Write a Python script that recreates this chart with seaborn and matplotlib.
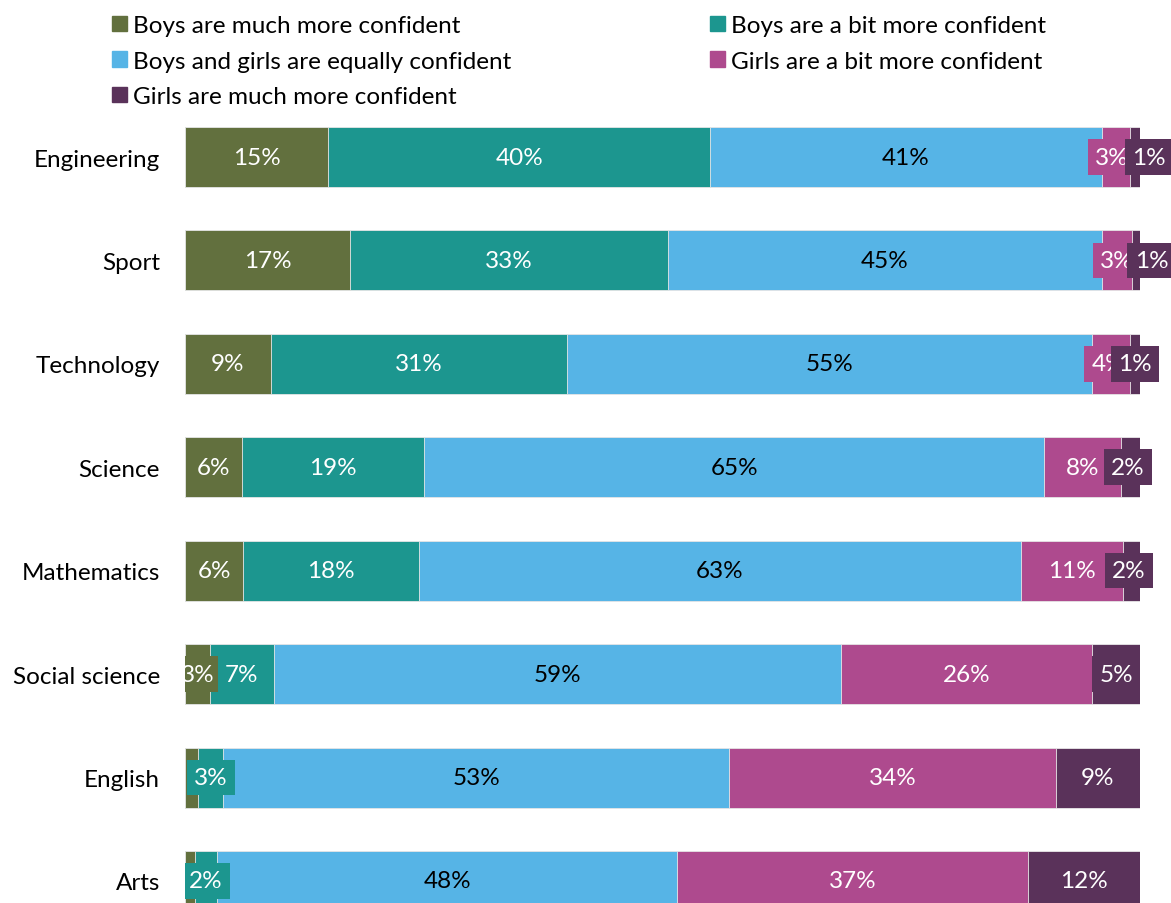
import numpy as np
import pandas as pd
import matplotlib
matplotlib.use("Agg")
import matplotlib.pyplot as plt
import matplotlib.patches as mpatches
from matplotlib.transforms import Bbox, TransformedBbox
import seaborn as sns

categories = ["Engineering", "Sport", "Technology", "Science", "Mathematics",
              "Social science", "English", "Arts"]
series_names = ["Boys are much more confident", "Boys are a bit more confident",
                "Boys and girls are equally confident", "Girls are a bit more confident",
                "Girls are much more confident"]
boys_much = [15, 17.3, 9, 6, 6.1, 2.6, 1.4, 1.0]
boys_bit = [40, 33.3, 31, 19, 18.4, 6.7, 2.6, 2.4]
equal = [41, 45.4, 55, 65, 63, 59.4, 53, 48.1]
girls_bit = [3, 3.2, 4, 8, 10.7, 26.3, 34.2, 36.8]
girls_much = [1, 0.8, 1, 2, 1.8, 5.0, 8.8, 11.7]

colors = ["#62703E", "#1C968F", "#56B4E6", "#AE4A8E", "#5A325A"]
text_colors = ["white", "white", "black", "white", "white"]
# labels that are not shown in the original chart
hidden = {("English", 0), ("Arts", 0)}
# labels nudged sideways (points) like in the original
nudge = {("Engineering", 4): 10, ("Sport", 4): 11, ("Engineering", 3): -3,
         ("Technology", 3): -2, ("Science", 4): -2, ("Mathematics", 4): -2}

sns.set_theme(style="white")
plt.rcParams["font.family"] = ["Lato", "DejaVu Sans"]
FS = 17.5

df = pd.DataFrame({"category": categories})
series = [boys_much, boys_bit, equal, girls_bit, girls_much]
cum = np.cumsum(np.array(series), axis=0)

fig = plt.figure(figsize=(11.71, 9.04), dpi=100)
ax = fig.add_axes([185 / 1171, 0, (1140 - 185) / 1171, (904 - 100) / 904])

# stacked bars: draw cumulative totals from the right-most series backwards
for i in range(len(series) - 1, -1, -1):
    df["value"] = cum[i]
    sns.barplot(data=df, x="value", y="category", orient="h", color=colors[i],
                saturation=1, width=0.58, edgecolor="#E8E8E8", linewidth=0.6, ax=ax)

# data labels, clipped at the left edge of the bars only
clip = TransformedBbox(Bbox([[185 / 1171, 0], [1, 1]]), fig.transFigure)
for i, vals in enumerate(series):
    for j, v in enumerate(vals):
        if (categories[j], i) in hidden:
            continue
        xc = cum[i][j] - v / 2
        t = ax.annotate(f"{v:.0f}%", (xc, j), xytext=(nudge.get((categories[j], i), 0), 0),
                        textcoords="offset points", ha="center", va="center",
                        fontsize=FS, color=text_colors[i], annotation_clip=False,
                        bbox=dict(boxstyle="square,pad=0.3", fc=colors[i], ec="none"))
        t.set_clip_box(clip)
        t.set_clip_on(True)

ax.set_xlim(0, 100)
ax.set_ylim(7.213, -0.561)
ax.set_xlabel("")
ax.set_ylabel("")
ax.set_xticks([])
ax.tick_params(axis="y", length=0, pad=18, labelsize=FS, labelcolor="black")
for s in ax.spines.values():
    s.set_visible(False)

handles = [mpatches.Patch(color=c, label=n) for c, n in zip(colors, series_names)]
order = [0, 2, 4, 1, 3]
fig.legend([handles[k] for k in order], [series_names[k] for k in order],
           ncol=2, loc="upper left", bbox_to_anchor=(112 / 1171, 1 - 16 / 904),
           frameon=False, fontsize=FS, borderpad=0, borderaxespad=0,
           handlelength=0.6, handleheight=0.6, handletextpad=0.25,
           columnspacing=8.2, labelspacing=0.6, labelcolor="black")

fig.savefig("out.png", dpi=100)
